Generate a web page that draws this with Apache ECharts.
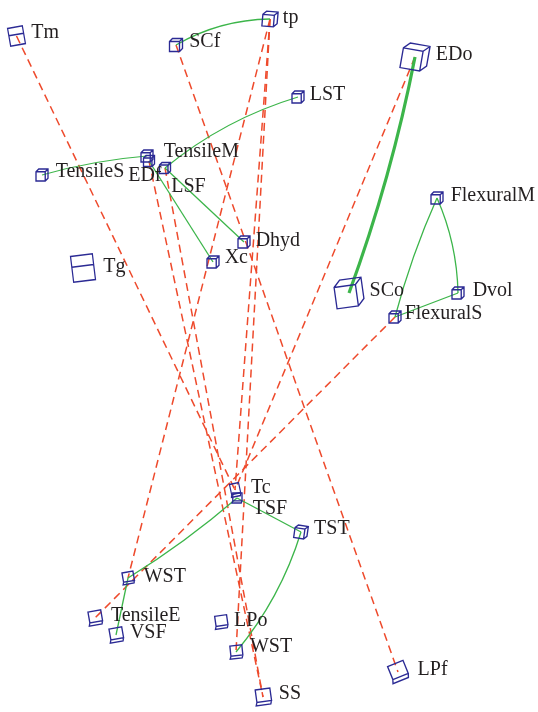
<!DOCTYPE html>
<html><head><meta charset="utf-8">
<script src="https://cdn.jsdelivr.net/npm/echarts@6/dist/echarts.min.js"></script>
<style>html,body{margin:0;padding:0;background:#fff}#c{width:538px;height:712px}</style>
</head><body><div id="c"></div>
<script>
// ---- data ----
const nodeNames  = ['Tm','SCf','tp','LST','EDo','TensileM','EDf','LSF','TensileS','Xc','Dhyd','Tg','FlexuralM','SCo','Dvol','FlexuralS','Tc','TSF','TST','WST1','TensileE','VSF','LPo','WST2','SS','LPf'];
const nodeLabels = ['Tm','SCf','tp','LST','EDo','TensileM','EDf','LSF','TensileS','Xc','Dhyd','Tg','FlexuralM','SCo','Dvol','FlexuralS','Tc','TSF','TST','WST','TensileE','VSF','LPo','WST','SS','LPf'];
const nodeX = [16.5,176,270,298,415,147,149,165,42,213,244,83,437,349,458,395,235,237,301,128,95,116,221,236,263,398];
const nodeY = [36,45,19,97,57,156,161,168,175,262,242,268,198,293,293,317,490,498,532,578,618,635,622,652,697,672];
// solid (green) relations
const solidLinks = [['SCf','tp'],['LST','LSF'],['TensileS','TensileM'],['EDf','Xc'],['LSF','Dhyd'],['EDo','SCo'],['FlexuralM','FlexuralS'],['FlexuralM','Dvol'],['Dvol','FlexuralS'],['TSF','WST1'],['TSF','TST'],['TST','WST2'],['WST1','VSF']];
// dashed (red) relations
const dashedLinks = [['Tm','Tc'],['SCf','LPf'],['tp','WST1'],['tp','Tc'],['tp','WST2'],['EDo','Tc'],['FlexuralS','TensileE'],['EDf','SS'],['LSF','SS']];

// ---- styles ----
const solidCurve = [0.13,-0.1,0.05,0,0,0.04,-0.04,0.1,0,0.04,0,0.1,0];
const solidWidth = [1.3,1.3,1.2,1.3,1.3,3.2,1.3,1.3,1.3,1.3,1.3,1.3,1.3];
const CUBE = 'path://M0,3L3,0L13,0L13,10L10,13L0,13ZM0,3L10,3L10,13M10,3L13,0';
const BOX = 'path://M0,0L20,0L20,24L0,24ZM0,10L20,10';
const LOW = 'path://M1,0L13,0L13,11L1,11ZM1,11L0,14L12,14L13,11';
const shapes = {Tm:BOX,Tg:BOX,Tc:LOW,TSF:LOW,TensileE:LOW,VSF:LOW,LPo:LOW,WST2:LOW,SS:LOW,LPf:LOW,WST1:LOW};
const sizes = {Tm:[15,18],SCf:13,tp:15,LST:12,EDo:26,TensileM:12,EDf:11,LSF:11,TensileS:12,Xc:12,Dhyd:12,Tg:[22,26],FlexuralM:12,SCo:28,Dvol:12,FlexuralS:12,Tc:[10,13],TSF:10,TST:13,WST1:12,TensileE:14,VSF:14,LPo:13,WST2:13,SS:16,LPf:18};
const rotates = {Tm:10,Tg:7,EDo:-10,SCo:8,LPf:22,TensileE:10,VSF:10,LPo:8,WST2:6,SS:8,Tc:12,WST1:10,tp:-5,TST:-8};
const offsets = {Tm:[0,-3],SCf:[1,-3],tp:[-1,-1],LST:[0,-2],EDo:[0,-2],TensileM:[5,-4],EDf:[-32,15],LSF:[-5,19],TensileS:[2,-3],Xc:[0,-4],Dhyd:[0,-1],Tg:[2,-1],FlexuralM:[2,-2],SCo:[-1,-2],Dvol:[3,-2],FlexuralS:[-2,-3],Tc:[4,-2],TSF:[5,11],TST:[0,-3],WST1:[3,-1],TensileE:[2,-2],VSF:[0,-2],LPo:[0,-1],WST2:[1,-5],SS:[1,-3],LPf:[2,-2]};

const idx = n => nodeNames.indexOf(n);
const data = nodeNames.map((n,i) => ({
  name: n,
  value: [nodeX[i], nodeY[i]],
  symbol: shapes[n] || CUBE,
  symbolSize: sizes[n],
  symbolRotate: rotates[n] || 0,
  label: {formatter: nodeLabels[i], offset: offsets[n] || [0,-2]}
}));
const links = [];
dashedLinks.forEach(l => links.push({source: idx(l[0]), target: idx(l[1]),
  lineStyle: {color:'#ee4a2c', width:1.5, type:[8,5], curveness:0, opacity:1}}));
solidLinks.forEach((l,i) => links.push({source: idx(l[0]), target: idx(l[1]),
  lineStyle: {color:'#3cb54a', width:solidWidth[i], type:'solid', curveness:solidCurve[i], opacity:1}}));

const chart = echarts.init(document.getElementById('c'), null, {renderer:'canvas'});
chart.setOption({
  animation: false,
  backgroundColor: '#ffffff',
  grid: {left:0, right:0, top:0, bottom:0},
  xAxis: {type:'value', min:0, max:538, show:false},
  yAxis: {type:'value', min:0, max:712, inverse:true, show:false},
  series: [{
    type: 'graph',
    layout: 'none',
    coordinateSystem: 'cartesian2d',
    data: data,
    links: links,
    symbolKeepAspect: false,
    itemStyle: {color:'rgba(255,255,255,0)', borderColor:'#2b2a94', borderWidth:1.35},
    label: {show:true, position:'right', distance:5, fontFamily:'Liberation Serif', fontSize:20, color:'#231f20'},
    emphasis: {disabled:true},
    z: 2
  }]
});
</script></body></html>
